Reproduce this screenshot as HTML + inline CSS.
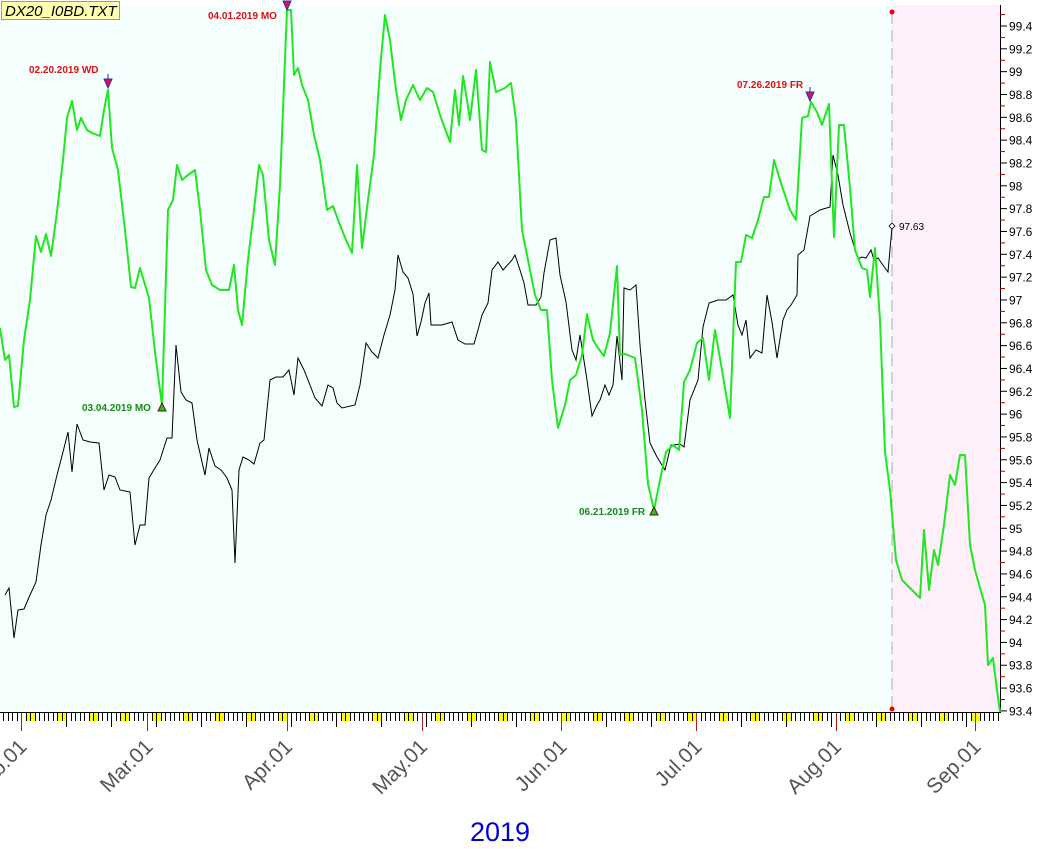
<!DOCTYPE html>
<html><head><meta charset="utf-8"><style>
body{margin:0;background:#fff}
svg{display:block;font-family:"Liberation Sans",sans-serif}
</style></head><body>
<svg width="1063" height="849" viewBox="0 0 1063 849" xmlns="http://www.w3.org/2000/svg">
<rect x="0" y="5" width="892" height="708" fill="#f5fffe"/>
<rect x="892" y="5" width="108" height="708" fill="#fdf0fb"/>
<line x1="892" y1="12" x2="892" y2="712" stroke="#aaa" stroke-dasharray="12,6"/>
<circle cx="892" cy="12" r="2.5" fill="#e00"/>
<circle cx="892" cy="709" r="2.5" fill="#e00"/>
<line x1="1000.5" y1="5" x2="1000.5" y2="713" stroke="#000"/>
<g id="yax" font-size="12" fill="#000"></g>
<g id="xax"></g>
<polyline fill="none" stroke="#000" stroke-width="1" points="5,595 9,588 14,638 18,610 24,609 30,595 36,582 41,545 46,515 51,500 57,475 63,452 68,432 72,472 77,424 83,440 90,442 99,443 104,490 109,475 115,477 120,490 130,492 135,545 140,525 145,525 149,478 155,468 160,460 167,438 172,438 176,345 181,392 186,400 192,403 197,440 205,475 209,448 215,466 221,470 227,478 232,490 235,563 239,470 243,457 249,460 254,464 260,443 264,440 270,380 276,377 283,377 289,370 294,395 298,358 304,370 310,385 315,398 322,406 328,385 333,388 337,403 342,408 355,405 360,385 366,343 372,352 378,358 384,335 390,315 395,290 398,255 403,272 408,278 413,294 417,336 421,322 425,303 429,293 431,325 436,325 442,325 452,322 458,340 465,344 474,344 478,330 482,315 488,303 492,270 498,262 503,270 512,260 515,255 520,270 524,283 528,305 536,305 541,297 544,273 550,240 556,238 560,275 566,302 572,350 576,360 580,335 587,380 592,416 597,405 600,400 605,385 609,395 613,385 617,336 622,380 624,288 630,290 636,285 640,345 645,400 650,443 657,457 665,470 671,445 674,445 680,444 684,447 690,400 698,380 703,327 709,303 718,300 726,300 733,295 738,325 742,335 746,320 750,358 756,350 762,353 767,295 772,322 777,358 783,320 787,310 791,305 797,295 798,255 804,250 810,216 820,210 830,207 833,155 838,175 843,205 850,233 854,246 858,259 862,257 866,258 871,250 874,260 878,258 885,268 888,272 892,227"/>
<polyline fill="none" stroke="#22e622" stroke-width="2" stroke-linejoin="round" points="0,328 5,360 9,355 14,407 18,406 24,340 30,300 36,236 41,252 46,234 51,256 57,212 63,160 67,118 72,101 77,130 81,118 87,130 92,133 100,136 104,110 108,90 112,148 118,170 125,230 131,287 135,288 140,268 149,298 155,352 162,405 168,210 173,200 177,165 182,180 188,175 195,170 200,210 206,270 212,285 220,290 229,290 234,265 238,310 242,325 248,260 254,210 259,165 263,175 269,240 275,265 280,185 287,10 291,10 294,75 298,68 302,85 308,100 314,135 320,160 327,210 333,206 340,225 346,240 352,253 357,165 362,248 368,200 374,155 380,70 385,15 390,40 396,90 401,120 406,100 413,85 420,100 427,88 433,92 440,115 450,142 455,90 459,125 463,76 467,100 470,120 476,70 482,150 486,152 490,62 496,92 505,88 511,83 516,120 522,230 528,260 535,295 541,310 547,310 552,380 558,428 565,405 570,380 576,375 582,355 587,314 593,340 598,348 604,356 610,333 617,266 620,355 625,354 635,358 642,410 648,484 654,510 660,480 666,452 673,445 679,450 684,382 690,370 697,343 703,338 709,380 715,330 722,370 730,418 736,262 741,262 746,235 752,238 758,220 764,197 769,197 774,160 780,180 790,210 796,220 802,118 808,116 811,102 817,112 822,125 829,104 834,237 839,125 844,125 850,188 855,250 862,268 867,270 870,297 875,248 880,320 885,452 890,490 896,560 902,580 910,588 920,598 924,530 929,590 934,550 938,565 944,525 950,475 955,485 960,455 965,455 970,545 975,570 980,588 985,605 988,665 993,658 997,690 1000,712"/>
<g font-size="10" font-weight="bold">
<text x="29" y="73" fill="#e01010">02.20.2019 WD</text>
<text x="208" y="19" fill="#e01010">04.01.2019 MO</text>
<text x="737" y="88" fill="#e01010">07.26.2019 FR</text>
<text x="82" y="411" fill="#1a8a1a">03.04.2019 MO</text>
<text x="579" y="515" fill="#1a8a1a">06.21.2019 FR</text>
</g>
<g stroke="#30309a" fill="#e01060" stroke-width="1">
<path d="M104,79 h8 l-4,9 z M108,79 v-5"/>
<path d="M283,1 h8 l-4,9 z"/>
<path d="M806,92 h8 l-4,9 z M810,92 v-5"/>
</g>
<g stroke="#6a1010" fill="#22c022" stroke-width="1">
<path d="M158,411 h8 l-4,-8 z"/>
<path d="M650,515 h8 l-4,-8 z"/>
</g>
<path d="M892,223 l3,3 l-3,3 l-3,-3 z" fill="#fff" stroke="#000" stroke-width="0.8"/>
<text x="899" y="230" font-size="10" fill="#000">97.63</text>
<rect x="1.5" y="1.5" width="118" height="18" fill="#ffffb0" stroke="#999"/>
<text x="5" y="16" font-size="15" font-style="italic" fill="#000">DX20_I0BD.TXT</text>
<text x="500" y="841" font-size="27" fill="#0000dd" text-anchor="middle">2019</text>
<script>
var ns="http://www.w3.org/2000/svg";
function el(p,t,a,txt){var e=document.createElementNS(ns,t);for(var k in a)e.setAttribute(k,a[k]);if(txt)e.textContent=txt;p.appendChild(e);return e;}
var ya=document.getElementById("yax");
for(var k=0;k<=30;k++){var v=99.4-k*0.2;var y=26+k*22.83;
 el(ya,"line",{x1:1000,x2:1007,y1:y,y2:y,stroke:"#000"});
 var t=(Math.round(v*10)/10).toString();
 el(ya,"text",{x:1009,y:y+4.5,"font-size":12},t);
 el(ya,"line",{x1:1000,x2:1005,y1:y-11.4,y2:y-11.4,stroke:"#a00"});}
var xa=document.getElementById("xax");
var d=4.5,x0=21;
for(var i=-5;i<230;i++){var x=x0+i*d;if(x<0||x>1000)continue;
 if((i%7+7)%7==2) el(xa,"rect",{x:x-4,y:713,width:9,height:8,fill:"#ffff00"});}
for(var i=-5;i<230;i++){var x=x0+i*d;if(x<0||x>1000)continue;var xx=Math.round(x)+0.5;
 var L=((i%10+10)%10==0)?14:8;
 el(xa,"line",{x1:xx,x2:xx,y1:713,y2:713+L,stroke:"#000"});}
var months=[["Feb.01",21],["Mar.01",147],["Apr.01",286.5],["May.01",421.5],["Jun.01",561],["Jul.01",696],["Aug.01",835.5],["Sep.01",975]];
months.forEach(function(m){var xx=Math.round(m[1])+0.5;
 el(xa,"line",{x1:xx,x2:xx,y1:713,y2:731,stroke:"#b02020"});
 el(xa,"text",{x:m[1]+7,y:748,"font-size":21,fill:"#555","text-anchor":"end",transform:"rotate(-45 "+(m[1]+7)+" 748)"},m[0]);});
el(xa,"line",{x1:0,x2:1000,y1:712.5,y2:712.5,stroke:"#000"});
</script>
</svg>
</body></html>
